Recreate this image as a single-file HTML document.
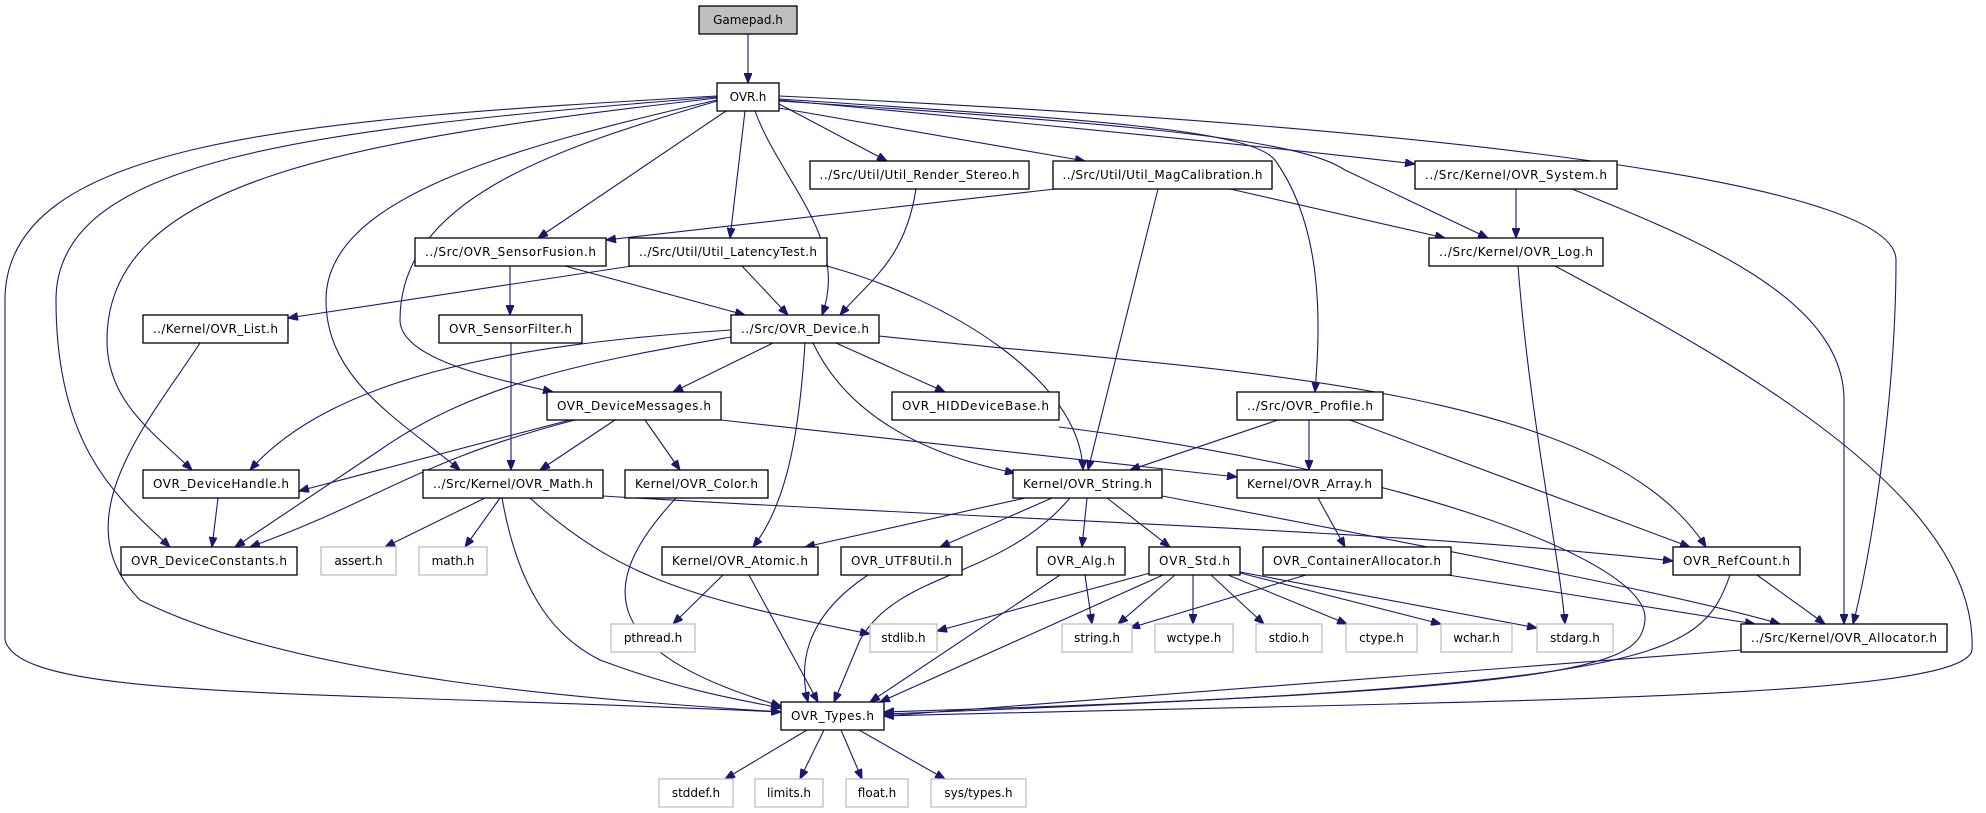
<!DOCTYPE html>
<html><head><meta charset="utf-8"><style>
html,body{margin:0;padding:0;background:#fff;}
svg{display:block;}
text{font-family:"DejaVu Sans","Liberation Sans",sans-serif;font-size:12px;fill:#000;}
.n{fill:#fff;stroke:#000;stroke-width:1.3;}
.g{fill:#fff;stroke:#bfbfbf;stroke-width:1.3;}
.e{fill:none;stroke:#191970;stroke-width:1.1;}
</style></head><body>
<svg width="1986" height="813" viewBox="0 0 1986 813" xmlns="http://www.w3.org/2000/svg">
<defs>
<marker id="a" markerWidth="11" markerHeight="8" refX="10" refY="4" orient="auto" markerUnits="userSpaceOnUse">
<path d="M0,0 L10,4 L0,8 z" fill="#191970" stroke="#191970"/></marker>
</defs>
<g class="e" marker-end="url(#a)">
<path d="M748,34 L748,83"/>
<path d="M726,111 L538,238"/>
<path d="M745,111 L730,238"/>
<path d="M755,111 C780,180 850,240 822,315"/>
<path d="M779,104 L887,161"/>
<path d="M779,108 L1085,161"/>
<path d="M779,99 C1100,120 1250,130 1275,160 C1325,230 1320,330 1315,392"/>
<path d="M779,100 C1100,130 1300,150 1415,164"/>
<path d="M779,101 C1150,125 1300,140 1345,170 L1488,238"/>
<path d="M1230,189 L1445,238"/>
<path d="M1516,189 L1516,238"/>
<path d="M1572,189 C1700,240 1844,300 1844,400 L1844,624"/>
<path d="M779,96 C1300,120 1896,170 1896,260 C1896,400 1870,560 1853,624"/>
<path d="M1518,266 C1530,420 1560,560 1565,624"/>
<path d="M1555,266 C1750,370 1978,500 1972,650 C1965,700 1500,700 884,716"/>
<path d="M1055,189 L606,240"/>
<path d="M1158,189 L1088,470"/>
<path d="M916,189 C905,260 870,280 840,315"/>
<path d="M510,266 L510,315"/>
<path d="M565,266 L745,315"/>
<path d="M632,266 L288,318"/>
<path d="M742,266 L788,315"/>
<path d="M827,266 C950,300 1080,380 1083,470"/>
<path d="M511,343 L511,470"/>
<path d="M200,343 C150,420 60,520 140,600 C300,680 600,700 781,712"/>
<path d="M773,343 L673,392"/>
<path d="M836,343 L945,392"/>
<path d="M731,330 C500,345 330,380 250,470"/>
<path d="M731,337 C600,360 480,380 380,450 L235,547"/>
<path d="M805,343 C800,420 790,500 753,547"/>
<path d="M813,343 C840,400 900,450 1015,473"/>
<path d="M879,336 C1200,370 1600,380 1706,547"/>
<path d="M570,420 L299,491"/>
<path d="M575,420 C420,460 380,500 250,547"/>
<path d="M615,420 L540,470"/>
<path d="M645,420 L680,470"/>
<path d="M721,420 L1237,477"/>
<path d="M1059,427 C1400,470 1650,560 1645,620 C1640,665 1600,690 884,712"/>
<path d="M1278,420 L1130,470"/>
<path d="M1309,420 L1309,470"/>
<path d="M1350,420 L1690,547"/>
<path d="M218,498 L212,547"/>
<path d="M485,498 L385,547"/>
<path d="M500,498 L465,547"/>
<path d="M502,498 C520,600 560,640 600,660 C680,690 740,700 781,708"/>
<path d="M530,498 C620,580 700,600 870,634"/>
<path d="M603,496 C1000,520 1400,530 1673,561"/>
<path d="M676,498 C600,580 590,650 781,706"/>
<path d="M1025,498 L805,547"/>
<path d="M1052,498 L940,547"/>
<path d="M1087,498 L1082,547"/>
<path d="M1107,498 L1170,547"/>
<path d="M1070,498 C1000,580 900,570 860,640 L834,702"/>
<path d="M1162,496 C1500,560 1700,600 1780,624"/>
<path d="M1318,498 L1345,547"/>
<path d="M723,575 L673,624"/>
<path d="M749,575 L818,702"/>
<path d="M868,575 C800,620 800,670 808,702"/>
<path d="M1085,575 L1092,624"/>
<path d="M1060,575 L870,702"/>
<path d="M1150,573 L937,631"/>
<path d="M1175,575 L1118,624"/>
<path d="M1193,575 L1193,624"/>
<path d="M1211,575 L1264,624"/>
<path d="M1228,575 L1347,624"/>
<path d="M1240,573 L1441,624"/>
<path d="M1240,572 L1537,628"/>
<path d="M1163,575 L880,702"/>
<path d="M1306,575 L1130,628"/>
<path d="M1448,575 L1755,624"/>
<path d="M1757,575 L1825,624"/>
<path d="M1730,575 C1700,660 1660,685 884,714"/>
<path d="M1741,650 L884,716"/>
<path d="M807,730 L725,779"/>
<path d="M824,730 L800,779"/>
<path d="M841,730 L862,779"/>
<path d="M859,730 L945,779"/>
<path d="M717,96 C300,120 5,140 5,300 L5,640 C20,700 300,690 781,712"/>
<path d="M717,97 C300,130 56,160 56,300 C56,450 120,500 170,547"/>
<path d="M717,98 C350,140 107,180 107,340 C107,400 150,430 192,470"/>
<path d="M717,100 C500,150 326,200 326,300 C326,380 400,420 460,470"/>
<path d="M717,101 C550,150 400,200 400,320 C400,360 500,380 553,392"/>
</g>
<g>
<rect x="699" y="6" width="98" height="28" fill="#bfbfbf" stroke="#000" stroke-width="1.3"/><text x="748" y="24" text-anchor="middle">Gamepad.h</text>
<rect class="n" x="717" y="83" width="62" height="28"/><text x="748" y="101" text-anchor="middle">OVR.h</text>
<rect class="n" x="810" y="161" width="219" height="28"/><text x="919.5" y="179" text-anchor="middle" textLength="200">../Src/Util/Util_Render_Stereo.h</text>
<rect class="n" x="1053" y="161" width="219" height="28"/><text x="1162.5" y="179" text-anchor="middle" textLength="200">../Src/Util/Util_MagCalibration.h</text>
<rect class="n" x="1415" y="161" width="202" height="28"/><text x="1516" y="179" text-anchor="middle" textLength="182">../Src/Kernel/OVR_System.h</text>
<rect class="n" x="415" y="238" width="191" height="28"/><text x="510.5" y="256" text-anchor="middle" textLength="171">../Src/OVR_SensorFusion.h</text>
<rect class="n" x="629" y="238" width="198" height="28"/><text x="728" y="256" text-anchor="middle" textLength="178">../Src/Util/Util_LatencyTest.h</text>
<rect class="n" x="1429" y="238" width="174" height="28"/><text x="1516" y="256" text-anchor="middle" textLength="154">../Src/Kernel/OVR_Log.h</text>
<rect class="n" x="143" y="315" width="145" height="28"/><text x="215.5" y="333" text-anchor="middle" textLength="125">../Kernel/OVR_List.h</text>
<rect class="n" x="439" y="315" width="143" height="28"/><text x="510.5" y="333" text-anchor="middle" textLength="123">OVR_SensorFilter.h</text>
<rect class="n" x="731" y="315" width="148" height="28"/><text x="805" y="333" text-anchor="middle" textLength="128">../Src/OVR_Device.h</text>
<rect class="n" x="547" y="392" width="174" height="28"/><text x="634" y="410" text-anchor="middle" textLength="154">OVR_DeviceMessages.h</text>
<rect class="n" x="892" y="392" width="167" height="28"/><text x="975.5" y="410" text-anchor="middle" textLength="147">OVR_HIDDeviceBase.h</text>
<rect class="n" x="1237" y="392" width="146" height="28"/><text x="1310" y="410" text-anchor="middle" textLength="126">../Src/OVR_Profile.h</text>
<rect class="n" x="143" y="470" width="156" height="28"/><text x="221" y="488" text-anchor="middle" textLength="136">OVR_DeviceHandle.h</text>
<rect class="n" x="423" y="470" width="180" height="28"/><text x="513" y="488" text-anchor="middle" textLength="160">../Src/Kernel/OVR_Math.h</text>
<rect class="n" x="625" y="470" width="143" height="28"/><text x="696.5" y="488" text-anchor="middle" textLength="123">Kernel/OVR_Color.h</text>
<rect class="n" x="1013" y="470" width="149" height="28"/><text x="1087.5" y="488" text-anchor="middle" textLength="129">Kernel/OVR_String.h</text>
<rect class="n" x="1237" y="470" width="145" height="28"/><text x="1309.5" y="488" text-anchor="middle" textLength="125">Kernel/OVR_Array.h</text>
<rect class="n" x="121" y="547" width="176" height="28"/><text x="209" y="565" text-anchor="middle" textLength="156">OVR_DeviceConstants.h</text>
<rect class="g" x="321" y="547" width="75" height="28"/><text x="358.5" y="565" text-anchor="middle" fill="#000">assert.h</text>
<rect class="g" x="419" y="547" width="68" height="28"/><text x="453" y="565" text-anchor="middle">math.h</text>
<rect class="n" x="662" y="547" width="156" height="28"/><text x="740" y="565" text-anchor="middle" textLength="136">Kernel/OVR_Atomic.h</text>
<rect class="n" x="841" y="547" width="121" height="28"/><text x="901.5" y="565" text-anchor="middle" textLength="101">OVR_UTF8Util.h</text>
<rect class="n" x="1037" y="547" width="88" height="28"/><text x="1081" y="565" text-anchor="middle" textLength="68">OVR_Alg.h</text>
<rect class="n" x="1149" y="547" width="91" height="28"/><text x="1194.5" y="565" text-anchor="middle" textLength="71">OVR_Std.h</text>
<rect class="n" x="1263" y="547" width="188" height="28"/><text x="1357" y="565" text-anchor="middle" textLength="168">OVR_ContainerAllocator.h</text>
<rect class="n" x="1673" y="547" width="127" height="28"/><text x="1736.5" y="565" text-anchor="middle" textLength="107">OVR_RefCount.h</text>
<rect class="g" x="611" y="624" width="84" height="28"/><text x="653" y="642" text-anchor="middle">pthread.h</text>
<rect class="g" x="870" y="624" width="67" height="28"/><text x="903.5" y="642" text-anchor="middle">stdlib.h</text>
<rect class="g" x="1062" y="624" width="70" height="28"/><text x="1097" y="642" text-anchor="middle">string.h</text>
<rect class="g" x="1155" y="624" width="78" height="28"/><text x="1194" y="642" text-anchor="middle">wctype.h</text>
<rect class="g" x="1256" y="624" width="66" height="28"/><text x="1289" y="642" text-anchor="middle">stdio.h</text>
<rect class="g" x="1346" y="624" width="71" height="28"/><text x="1381.5" y="642" text-anchor="middle">ctype.h</text>
<rect class="g" x="1441" y="624" width="71" height="28"/><text x="1476.5" y="642" text-anchor="middle">wchar.h</text>
<rect class="g" x="1537" y="624" width="76" height="28"/><text x="1575" y="642" text-anchor="middle">stdarg.h</text>
<rect class="n" x="1741" y="624" width="206" height="28"/><text x="1844" y="642" text-anchor="middle" textLength="186">../Src/Kernel/OVR_Allocator.h</text>
<rect class="n" x="781" y="702" width="103" height="28"/><text x="832.5" y="720" text-anchor="middle" textLength="83">OVR_Types.h</text>
<rect class="g" x="659" y="779" width="74" height="28"/><text x="696" y="797" text-anchor="middle">stddef.h</text>
<rect class="g" x="755" y="779" width="68" height="28"/><text x="789" y="797" text-anchor="middle">limits.h</text>
<rect class="g" x="846" y="779" width="62" height="28"/><text x="877" y="797" text-anchor="middle">float.h</text>
<rect class="g" x="931" y="779" width="95" height="28"/><text x="978.5" y="797" text-anchor="middle">sys/types.h</text>
</g>
</svg>
</body></html>
